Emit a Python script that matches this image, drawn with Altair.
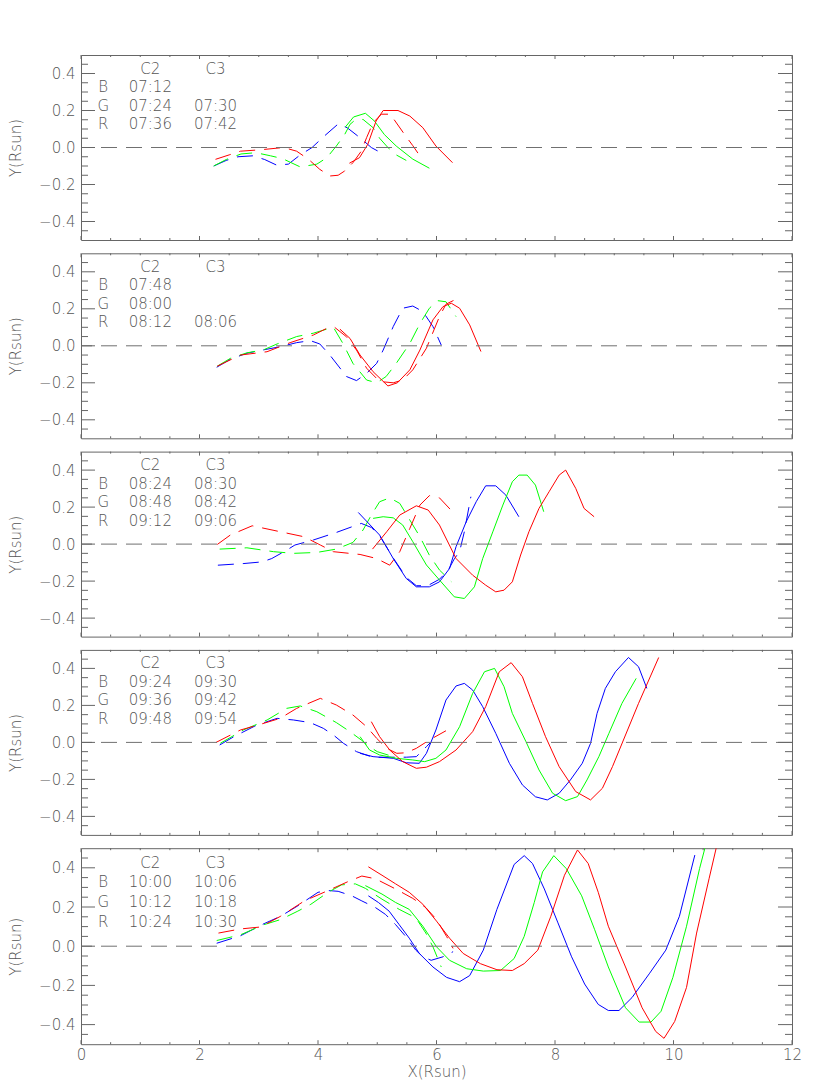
import altair as alt
import pandas as pd

# ---------------- data ----------------
# panel 1
p1_b2_x = [2.24, 2.45, 2.65, 2.9, 3.1, 3.3, 3.5, 3.7, 3.9, 4.1, 4.35, 4.5, 4.7, 4.9, 5.1]
p1_b2_y = [-0.10, -0.07, -0.05, -0.045, -0.065, -0.095, -0.09, -0.04, 0.0, 0.06, 0.13, 0.105, 0.055, 0.0, -0.035]
p1_g2_x = [2.24, 2.45, 2.7, 2.95, 3.2, 3.4, 3.7, 3.98, 4.15, 4.31, 4.45, 4.54, 4.62, 4.76, 4.93, 5.04, 5.18, 5.32, 5.49]
p1_g2_y = [-0.10, -0.065, -0.035, -0.028, -0.045, -0.06, -0.105, -0.09, -0.055, 0.008, 0.07, 0.125, 0.147, 0.152, 0.107, 0.05, 0.0, -0.04, -0.07]
p1_g3_x = [4.46, 4.6, 4.8, 4.95, 5.12, 5.32, 5.6, 5.88]
p1_g3_y = [0.11, 0.165, 0.185, 0.144, 0.07, 0.008, -0.063, -0.112]
p1_r2_x = [2.27, 2.5, 2.69, 3.04, 3.42, 3.64, 3.84, 4.03, 4.2, 4.34, 4.45, 4.59, 4.73, 4.82, 4.93, 5.07, 5.22, 5.44, 5.6, 5.74]
p1_r2_y = [-0.064, -0.04, -0.02, -0.012, 0.0, -0.02, -0.064, -0.118, -0.154, -0.15, -0.127, -0.082, -0.02, 0.053, 0.134, 0.18, 0.18, 0.08, 0.01, -0.055]
p1_r3_x = [4.53, 4.7, 4.84, 4.98, 5.1, 5.35, 5.55, 5.77, 5.99, 6.27]
p1_r3_y = [-0.085, -0.055, 0.017, 0.143, 0.2, 0.2, 0.17, 0.107, 0.008, -0.082]

# panel 2
p2_b2_x = [2.29, 2.52, 2.80, 3.08, 3.36, 3.64, 3.87, 4.03, 4.20, 4.37, 4.48, 4.65, 4.82, 4.99, 5.10, 5.27, 5.43, 5.60, 5.77, 5.94, 6.08]
p2_b2_y = [-0.116, -0.073, -0.04, -0.022, -0.005, 0.017, 0.028, 0.01, -0.05, -0.12, -0.166, -0.188, -0.149, -0.095, -0.023, 0.104, 0.203, 0.215, 0.185, 0.104, 0.004]
p2_g2_x = [2.30, 2.52, 2.80, 3.08, 3.31, 3.64, 3.92, 4.20, 4.26, 4.42, 4.59, 4.82, 4.99, 5.15, 5.32, 5.55, 5.72, 5.88, 6.02, 6.16, 6.33]
p2_g2_y = [-0.11, -0.068, -0.038, -0.022, 0.01, 0.05, 0.068, 0.095, 0.1, 0.013, -0.095, -0.185, -0.2, -0.166, -0.095, 0.013, 0.12, 0.203, 0.244, 0.238, 0.158]
p2_r2_x = [2.30, 2.69, 3.14, 3.53, 3.92, 4.17, 4.28, 4.48, 4.65, 4.82, 5.04, 5.27, 5.43, 5.60, 5.83, 6.05, 6.16, 6.30]
p2_r2_y = [-0.11, -0.05, -0.032, 0.017, 0.058, 0.098, 0.1, 0.049, -0.023, -0.121, -0.193, -0.2, -0.185, -0.13, -0.013, 0.158, 0.225, 0.247]
p2_r3_x = [4.37, 4.54, 4.71, 4.93, 5.18, 5.34, 5.55, 5.72, 5.94, 6.11, 6.25, 6.39, 6.56, 6.75]
p2_r3_y = [0.09, 0.04, -0.05, -0.14, -0.217, -0.2, -0.13, -0.023, 0.14, 0.212, 0.23, 0.203, 0.113, -0.031]

# panel 3
p3_b2_x = [2.31, 2.75, 3.06, 3.22, 3.47, 3.61, 3.92, 4.31, 4.73, 4.9, 5.04, 5.27, 5.49, 5.66, 5.85, 6.05, 6.2, 6.3, 6.39, 6.47, 6.58]
p3_b2_y = [-0.114, -0.105, -0.096, -0.078, -0.033, -0.005, 0.022, 0.063, 0.112, 0.09, 0.045, -0.075, -0.18, -0.225, -0.225, -0.19, -0.14, -0.08, -0.04, 0.067, 0.256]
p3_b3_x = [4.68, 5.04, 5.27, 5.49, 5.66, 5.88, 6.05, 6.22, 6.33, 6.50, 6.67, 6.83, 7.0, 7.17, 7.39]
p3_b3_y = [0.171, 0.049, -0.078, -0.186, -0.231, -0.231, -0.204, -0.132, -0.014, 0.12, 0.229, 0.315, 0.315, 0.265, 0.148]
p3_g2_x = [2.34, 2.80, 3.25, 3.59, 3.98, 4.31, 4.59, 4.76, 4.90, 5.04, 5.21, 5.38, 5.55, 5.72, 5.88, 6.05, 6.25]
p3_g2_y = [-0.027, -0.020, -0.041, -0.05, -0.045, -0.027, 0.009, 0.076, 0.157, 0.229, 0.25, 0.22, 0.13, 0.04, -0.06, -0.14, -0.203]
p3_g3_x = [4.93, 5.10, 5.27, 5.43, 5.60, 5.83, 6.05, 6.30, 6.47, 6.64, 6.78, 6.95, 7.12, 7.28, 7.39, 7.53, 7.67, 7.81]
p3_g3_y = [0.139, 0.148, 0.142, 0.103, 0.013, -0.113, -0.194, -0.285, -0.294, -0.231, -0.078, 0.066, 0.211, 0.337, 0.373, 0.373, 0.319, 0.175]
p3_r2_x = [2.30, 2.52, 2.89, 3.36, 3.76, 4.04, 4.26, 4.71, 4.99, 5.21, 5.38, 5.55, 5.72, 5.88, 6.05, 6.27]
p3_r2_y = [-0.002, 0.049, 0.099, 0.067, 0.04, -0.005, -0.041, -0.056, -0.078, -0.114, -0.041, 0.085, 0.211, 0.262, 0.25, 0.175]
p3_r3_x = [4.92, 5.16, 5.38, 5.66, 5.86, 6.05, 6.33, 6.61, 6.83, 7.0, 7.14, 7.28, 7.42, 7.56, 7.73, 7.90, 8.07, 8.18, 8.35, 8.49, 8.66]
p3_r3_y = [-0.027, 0.067, 0.157, 0.207, 0.184, 0.103, -0.078, -0.168, -0.222, -0.258, -0.249, -0.204, -0.059, 0.067, 0.193, 0.283, 0.373, 0.4, 0.301, 0.193, 0.148]

# panel 4
p4_b2_x = [2.34, 2.58, 2.97, 3.31, 3.59, 3.87, 4.09, 4.26, 4.43, 4.65, 4.93, 5.21, 5.49, 5.66, 5.83, 5.9]
p4_b2_y = [-0.014, 0.031, 0.094, 0.130, 0.121, 0.107, 0.076, 0.040, -0.005, -0.05, -0.081, -0.08, -0.08, -0.077, -0.023, 0.0]
p4_b3_x = [4.71, 4.93, 5.27, 5.49, 5.71, 5.83, 5.99, 6.16, 6.33, 6.47, 6.61, 6.78, 7.0, 7.23, 7.45, 7.67, 7.87, 8.07, 8.26, 8.46, 8.60, 8.71, 8.85, 9.02, 9.24, 9.41, 9.55]
p4_b3_y = [-0.059, -0.077, -0.086, -0.11, -0.113, -0.059, 0.067, 0.229, 0.305, 0.319, 0.283, 0.193, 0.049, -0.113, -0.23, -0.294, -0.311, -0.275, -0.203, -0.113, -0.005, 0.157, 0.292, 0.382, 0.459, 0.409, 0.292]
p4_g2_x = [2.35, 2.74, 3.14, 3.47, 3.70, 3.98, 4.31, 4.54, 4.73, 4.87, 5.0, 5.2]
p4_g2_y = [-0.005, 0.067, 0.121, 0.184, 0.197, 0.166, 0.107, 0.058, 0.013, -0.023, -0.05, -0.07]
p4_g3_x = [4.71, 4.87, 5.04, 5.32, 5.60, 5.80, 5.99, 6.16, 6.39, 6.61, 6.81, 6.98, 7.14, 7.28, 7.51, 7.73, 7.96, 8.18, 8.38, 8.54, 8.74, 8.91, 9.13, 9.37]
p4_g3_y = [0.031, -0.041, -0.068, -0.086, -0.095, -0.104, -0.086, -0.041, 0.085, 0.265, 0.382, 0.4, 0.301, 0.157, 0.004, -0.149, -0.275, -0.315, -0.293, -0.203, -0.077, 0.049, 0.211, 0.346]
p4_r2_x = [2.28, 2.69, 3.0, 3.36, 3.64, 4.04, 4.31, 4.59, 4.82, 4.99, 5.16, 5.33, 5.49, 5.66, 5.88, 6.16]
p4_r2_y = [0.0, 0.067, 0.095, 0.130, 0.184, 0.238, 0.202, 0.148, 0.085, 0.022, -0.032, -0.059, -0.056, -0.032, 0.013, 0.063]
p4_r3_x = [4.90, 5.04, 5.21, 5.43, 5.66, 5.83, 6.05, 6.33, 6.61, 6.83, 7.06, 7.26, 7.45, 7.62, 7.84, 8.07, 8.35, 8.60, 8.80, 8.97, 9.19, 9.41, 9.75]
p4_r3_y = [0.112, 0.031, -0.041, -0.104, -0.14, -0.134, -0.104, -0.041, 0.058, 0.193, 0.382, 0.431, 0.355, 0.211, 0.031, -0.131, -0.266, -0.311, -0.248, -0.131, 0.04, 0.211, 0.459]

# panel 5
p5_b2_x = [2.29, 2.69, 3.09, 3.37, 3.66, 4.00, 4.17, 4.34, 4.57, 4.74, 4.97, 5.14, 5.31, 5.48, 5.65, 5.77, 5.91, 6.11, 6.28]
p5_b2_y = [0.015, 0.053, 0.115, 0.153, 0.206, 0.275, 0.284, 0.28, 0.257, 0.231, 0.197, 0.162, 0.11, 0.05, -0.02, -0.054, -0.072, -0.054, -0.028]
p5_b3_x = [4.85, 5.02, 5.20, 5.37, 5.54, 5.71, 5.94, 6.17, 6.39, 6.56, 6.79, 7.02, 7.31, 7.48, 7.62, 7.82, 8.05, 8.28, 8.50, 8.73, 8.90, 9.08, 9.30, 9.59, 9.87, 10.10, 10.36]
p5_b3_y = [0.257, 0.223, 0.179, 0.110, 0.041, -0.037, -0.106, -0.159, -0.181, -0.150, -0.020, 0.188, 0.417, 0.462, 0.422, 0.292, 0.119, -0.054, -0.193, -0.297, -0.328, -0.328, -0.262, -0.141, -0.020, 0.153, 0.465]
p5_g2_x = [2.29, 2.69, 3.09, 3.37, 3.66, 3.88, 4.17, 4.40, 4.63, 4.80, 5.08, 5.37, 5.65, 5.82, 5.94, 6.08]
p5_g2_y = [0.029, 0.058, 0.110, 0.136, 0.179, 0.214, 0.275, 0.313, 0.318, 0.295, 0.240, 0.188, 0.145, 0.067, -0.003, -0.106]
p5_g3_x = [4.80, 5.08, 5.31, 5.54, 5.77, 6.00, 6.22, 6.51, 6.79, 7.08, 7.31, 7.48, 7.65, 7.79, 7.98, 8.19, 8.45, 8.67, 8.90, 9.19, 9.42, 9.62, 9.79, 9.99, 10.22, 10.44, 10.53]
p5_g3_y = [0.309, 0.266, 0.223, 0.188, 0.102, -0.003, -0.072, -0.115, -0.127, -0.124, -0.063, 0.050, 0.223, 0.379, 0.462, 0.396, 0.257, 0.084, -0.106, -0.314, -0.387, -0.387, -0.332, -0.159, 0.102, 0.396, 0.5]
p5_r2_x = [2.32, 2.69, 3.03, 3.37, 3.77, 4.17, 4.51, 4.74, 4.97, 5.31, 5.60, 5.82, 6.00, 6.17, 6.28]
p5_r2_y = [0.067, 0.088, 0.098, 0.153, 0.231, 0.284, 0.330, 0.358, 0.344, 0.292, 0.244, 0.197, 0.136, 0.050, -0.011]
p5_r3_x = [4.85, 5.08, 5.31, 5.54, 5.77, 6.00, 6.22, 6.45, 6.74, 7.02, 7.28, 7.48, 7.71, 7.93, 8.16, 8.38, 8.56, 8.73, 8.90, 9.19, 9.47, 9.70, 9.84, 10.02, 10.22, 10.39, 10.60, 10.72]
p5_r3_y = [0.405, 0.362, 0.318, 0.275, 0.214, 0.128, 0.041, -0.037, -0.089, -0.120, -0.124, -0.089, -0.020, 0.153, 0.362, 0.491, 0.422, 0.275, 0.102, -0.106, -0.314, -0.435, -0.470, -0.384, -0.210, 0.067, 0.344, 0.5]

# legend text (times of C2 and C3 images per panel)
c2_times = [["07:12", "07:24", "07:36"], ["07:48", "08:00", "08:12"], ["08:24", "08:48", "09:12"],
            ["09:24", "09:36", "09:48"], ["10:00", "10:12", "10:24"]]
c3_times = [["", "07:30", "07:42"], ["", "", "08:06"], ["08:30", "08:42", "09:06"],
            ["09:30", "09:42", "09:54"], ["10:06", "10:18", "10:30"]]
channels = ["B", "G", "R"]
instruments = ["C2", "C3"]

# axis tick values
y_major = [-0.4, -0.2, 0.0, 0.2, 0.4]
y_minor = [-0.45, -0.35, -0.3, -0.25, -0.15, -0.1, -0.05, 0.05, 0.1, 0.15, 0.25, 0.3, 0.35, 0.45]
x_major = [0, 2, 4, 6, 8, 10, 12]
x_minor = [v / 2 for v in range(1, 24) if v % 4 != 0]

curves = [
    [("B", "C2", p1_b2_x, p1_b2_y), ("G", "C2", p1_g2_x, p1_g2_y), ("G", "C3", p1_g3_x, p1_g3_y),
     ("R", "C2", p1_r2_x, p1_r2_y), ("R", "C3", p1_r3_x, p1_r3_y)],
    [("B", "C2", p2_b2_x, p2_b2_y), ("G", "C2", p2_g2_x, p2_g2_y),
     ("R", "C2", p2_r2_x, p2_r2_y), ("R", "C3", p2_r3_x, p2_r3_y)],
    [("B", "C2", p3_b2_x, p3_b2_y), ("B", "C3", p3_b3_x, p3_b3_y), ("G", "C2", p3_g2_x, p3_g2_y),
     ("G", "C3", p3_g3_x, p3_g3_y), ("R", "C2", p3_r2_x, p3_r2_y), ("R", "C3", p3_r3_x, p3_r3_y)],
    [("B", "C2", p4_b2_x, p4_b2_y), ("B", "C3", p4_b3_x, p4_b3_y), ("G", "C2", p4_g2_x, p4_g2_y),
     ("G", "C3", p4_g3_x, p4_g3_y), ("R", "C2", p4_r2_x, p4_r2_y), ("R", "C3", p4_r3_x, p4_r3_y)],
    [("B", "C2", p5_b2_x, p5_b2_y), ("B", "C3", p5_b3_x, p5_b3_y), ("G", "C2", p5_g2_x, p5_g2_y),
     ("G", "C3", p5_g3_x, p5_g3_y), ("R", "C2", p5_r2_x, p5_r2_y), ("R", "C3", p5_r3_x, p5_r3_y)],
]

# ---------------- styling ----------------
FONT = "DejaVu Sans"
FS = 15
TXT = "#555555"
FRAME = "#666666"
W = 711
HEIGHTS = [185, 185, 185, 185, 196]
DASH = [16, 9]
LEG_COL_X = [0.376, 1.17, 2.27]      # data-x of letter / C2 / C3 columns
LEG_ROW_Y = [0.4, 0.3, 0.2, 0.1]     # data-y baselines of header and rows

xs = alt.Scale(domain=[0, 12], nice=False, zero=False)
ys = alt.Scale(domain=[-0.5, 0.5], nice=False, zero=False)
color_scale = alt.Scale(domain=channels, range=["#0000ff", "#00ff00", "#ff0000"])


def make_panel(k, bottom):
    H = HEIGHTS[k]
    rows = []
    for ch, inst, cx, cy in curves[k]:
        for i, (a, b) in enumerate(zip(cx, cy)):
            rows.append({"x": a, "y": b, "ch": ch, "inst": inst, "sid": ch + inst, "i": i})
    df = pd.DataFrame(rows)

    if bottom:
        x_axis = alt.Axis(title="X(Rsun)", values=x_major, format="d", ticks=False, domain=False,
                          grid=False, labelFlush=False, labelPadding=3, titlePadding=2,
                          labelFont=FONT, labelFontSize=FS, labelColor=TXT, labelFontWeight=200,
                          titleFont=FONT, titleFontSize=FS, titleColor=TXT, titleFontWeight=200)
    else:
        x_axis = None
    y_axis = alt.Axis(title="Y(Rsun)", values=y_major, format=".1f", ticks=False, domain=False,
                      grid=False, labelPadding=6, titlePadding=15,
                      labelFont=FONT, labelFontSize=FS, labelColor=TXT, labelFontWeight=200,
                      titleFont=FONT, titleFontSize=FS, titleColor=TXT, titleFontWeight=200)

    enc_x = alt.X("x:Q", scale=xs, axis=x_axis, title="X(Rsun)")
    enc_y = alt.Y("y:Q", scale=ys, axis=y_axis, title="Y(Rsun)")

    base = alt.Chart(df)
    c2 = base.transform_filter(alt.datum.inst == "C2").mark_line(
        strokeWidth=1, strokeDash=DASH, clip=True).encode(
        x=enc_x, y=enc_y,
        color=alt.Color("ch:N", scale=color_scale, legend=None),
        detail="sid:N", order="i:Q")
    c3 = base.transform_filter(alt.datum.inst == "C3").mark_line(
        strokeWidth=1, clip=True).encode(
        x=enc_x, y=enc_y,
        color=alt.Color("ch:N", scale=color_scale, legend=None),
        detail="sid:N", order="i:Q")

    zero = alt.Chart(pd.DataFrame({"y": [0.0]})).mark_rule(
        color="#707070", strokeWidth=1, strokeDash=DASH).encode(y=alt.Y("y:Q", scale=ys, axis=y_axis, title="Y(Rsun)"))

    def yticks(vals, length):
        d = alt.Chart(pd.DataFrame({"y": vals}))
        left = d.mark_rule(color=FRAME, strokeWidth=1).encode(
            y=alt.Y("y:Q", scale=ys, axis=y_axis, title="Y(Rsun)"), x=alt.value(0), x2=alt.value(length))
        right = d.mark_rule(color=FRAME, strokeWidth=1).encode(
            y=alt.Y("y:Q", scale=ys, axis=y_axis, title="Y(Rsun)"), x=alt.value(W - length), x2=alt.value(W))
        return [left, right]

    def xticks(vals, length):
        d = alt.Chart(pd.DataFrame({"x": vals}))
        bot = d.mark_rule(color=FRAME, strokeWidth=1).encode(
            x=alt.X("x:Q", scale=xs, axis=x_axis, title="X(Rsun)"), y=alt.value(H - length), y2=alt.value(H))
        top = d.mark_rule(color=FRAME, strokeWidth=1).encode(
            x=alt.X("x:Q", scale=xs, axis=x_axis, title="X(Rsun)"), y=alt.value(0), y2=alt.value(length))
        return [bot, top]

    # legend block
    trows = [{"x": LEG_COL_X[1], "y": LEG_ROW_Y[0], "t": instruments[0]},
             {"x": LEG_COL_X[2], "y": LEG_ROW_Y[0], "t": instruments[1]}]
    for j, ch in enumerate(channels):
        trows.append({"x": LEG_COL_X[0], "y": LEG_ROW_Y[j + 1], "t": ch})
        trows.append({"x": LEG_COL_X[1], "y": LEG_ROW_Y[j + 1], "t": c2_times[k][j]})
        trows.append({"x": LEG_COL_X[2], "y": LEG_ROW_Y[j + 1], "t": c3_times[k][j]})
    text = alt.Chart(pd.DataFrame(trows)).mark_text(
        font=FONT, fontSize=FS, fontWeight=200, color=TXT, align="center", baseline="alphabetic").encode(
        x=alt.X("x:Q", scale=xs, axis=x_axis, title="X(Rsun)"),
        y=alt.Y("y:Q", scale=ys, axis=y_axis, title="Y(Rsun)"),
        text="t:N")

    layers = [c2, c3, zero] + yticks(y_major, 14) + yticks(y_minor, 7) + \
        xticks(x_major, 4) + xticks(x_minor, 2) + [text]
    return alt.layer(*layers).properties(width=W, height=H)


panels = [make_panel(k, k == 4) for k in range(5)]

chart = alt.vconcat(*panels, spacing=11.3).properties(
    padding={"left": 0, "top": 46, "right": 5, "bottom": 5},
    background="white",
).configure_view(stroke=FRAME, strokeWidth=1)

chart.save("out.html", embed_options={"renderer": "svg", "actions": False})
